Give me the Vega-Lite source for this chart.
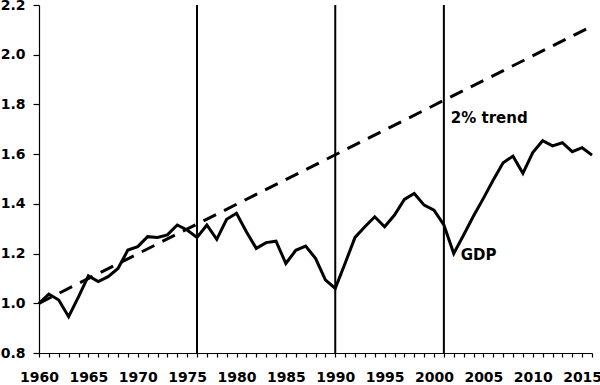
{
  "$schema": "https://vega.github.io/schema/vega-lite/v6.json",
  "width": 553,
  "height": 348,
  "autosize": "none",
  "padding": {"left": 39, "top": 5, "right": 8, "bottom": 32},
  "background": "white",
  "config": {
    "view": {"stroke": null},
    "font": "DejaVu Sans",
    "axis": {
      "domainColor": "black",
      "domainWidth": 1.2,
      "tickColor": "black",
      "tickWidth": 1.2,
      "labelColor": "black",
      "labelFont": "DejaVu Sans",
      "labelFontWeight": "bold",
      "labelFontSize": 14,
      "grid": false,
      "title": null
    }
  },
  "datasets": {
    "gdp": [
      {"year": 1960, "value": 1.0},
      {"year": 1961, "value": 1.037},
      {"year": 1962, "value": 1.013},
      {"year": 1963, "value": 0.946},
      {"year": 1964, "value": 1.026},
      {"year": 1965, "value": 1.11},
      {"year": 1966, "value": 1.087},
      {"year": 1967, "value": 1.107},
      {"year": 1968, "value": 1.14},
      {"year": 1969, "value": 1.214},
      {"year": 1970, "value": 1.228},
      {"year": 1971, "value": 1.268},
      {"year": 1972, "value": 1.265},
      {"year": 1973, "value": 1.275},
      {"year": 1974, "value": 1.315},
      {"year": 1975, "value": 1.295},
      {"year": 1976, "value": 1.265},
      {"year": 1977, "value": 1.315},
      {"year": 1978, "value": 1.257},
      {"year": 1979, "value": 1.338},
      {"year": 1980, "value": 1.362},
      {"year": 1981, "value": 1.288},
      {"year": 1982, "value": 1.221},
      {"year": 1983, "value": 1.244},
      {"year": 1984, "value": 1.25},
      {"year": 1985, "value": 1.16},
      {"year": 1986, "value": 1.213},
      {"year": 1987, "value": 1.23},
      {"year": 1988, "value": 1.181},
      {"year": 1989, "value": 1.094},
      {"year": 1990, "value": 1.06},
      {"year": 1991, "value": 1.161},
      {"year": 1992, "value": 1.265},
      {"year": 1993, "value": 1.308},
      {"year": 1994, "value": 1.348},
      {"year": 1995, "value": 1.308},
      {"year": 1996, "value": 1.355},
      {"year": 1997, "value": 1.418},
      {"year": 1998, "value": 1.442},
      {"year": 1999, "value": 1.395},
      {"year": 2000, "value": 1.375},
      {"year": 2001, "value": 1.315},
      {"year": 2002, "value": 1.2},
      {"year": 2003, "value": 1.275},
      {"year": 2004, "value": 1.351},
      {"year": 2005, "value": 1.422},
      {"year": 2006, "value": 1.496},
      {"year": 2007, "value": 1.565},
      {"year": 2008, "value": 1.592},
      {"year": 2009, "value": 1.523},
      {"year": 2010, "value": 1.606},
      {"year": 2011, "value": 1.654},
      {"year": 2012, "value": 1.633},
      {"year": 2013, "value": 1.646},
      {"year": 2014, "value": 1.61},
      {"year": 2015, "value": 1.626},
      {"year": 2016, "value": 1.596}
    ],
    "trend": [
      {"year": 1960, "value": 1.0},
      {"year": 2016, "value": 2.115}
    ],
    "vlines": [
      {"year": 1976},
      {"year": 1990},
      {"year": 2001}
    ],
    "labels": [
      {"year": 2001.7, "value": 1.745, "text": "2% trend"},
      {"year": 2002.7, "value": 1.194, "text": "GDP"}
    ]
  },
  "encoding": {
    "x": {
      "field": "year",
      "type": "quantitative",
      "scale": {"domain": [1960, 2016], "nice": false, "zero": false},
      "axis": {
        "values": [1960,1961,1962,1963,1964,1965,1966,1967,1968,1969,1970,1971,1972,1973,1974,1975,1976,1977,1978,1979,1980,1981,1982,1983,1984,1985,1986,1987,1988,1989,1990,1991,1992,1993,1994,1995,1996,1997,1998,1999,2000,2001,2002,2003,2004,2005,2006,2007,2008,2009,2010,2011,2012,2013,2014,2015,2016],
        "labelExpr": "datum.value % 5 === 0 ? datum.value + '' : ''",
        "labelOverlap": false,
        "labelFlush": false,
        "tickSize": 4,
        "labelPadding": 13
      }
    }
  },
  "layer": [
    {
      "data": {"name": "vlines"},
      "mark": {"type": "rule", "color": "black", "strokeWidth": 2},
      "encoding": {}
    },
    {
      "data": {"name": "trend"},
      "mark": {"type": "line", "color": "black", "strokeWidth": 3, "strokeDash": [14, 9]},
      "encoding": {
        "y": {
          "field": "value",
          "type": "quantitative",
          "scale": {"domain": [0.8, 2.2], "nice": false, "zero": false},
          "axis": {
            "values": [0.8, 1.0, 1.2, 1.4, 1.6, 1.8, 2.0, 2.2],
            "format": ".1f",
            "tickSize": 6,
            "labelPadding": 8
          }
        }
      }
    },
    {
      "data": {"name": "gdp"},
      "mark": {"type": "line", "color": "black", "strokeWidth": 3, "strokeJoin": "miter"},
      "encoding": {
        "y": {"field": "value", "type": "quantitative"}
      }
    },
    {
      "data": {"name": "labels"},
      "mark": {"type": "text", "align": "left", "baseline": "middle", "font": "DejaVu Sans", "fontWeight": "bold", "fontSize": 15, "color": "black"},
      "encoding": {
        "y": {"field": "value", "type": "quantitative"},
        "text": {"field": "text"}
      }
    }
  ]
}
